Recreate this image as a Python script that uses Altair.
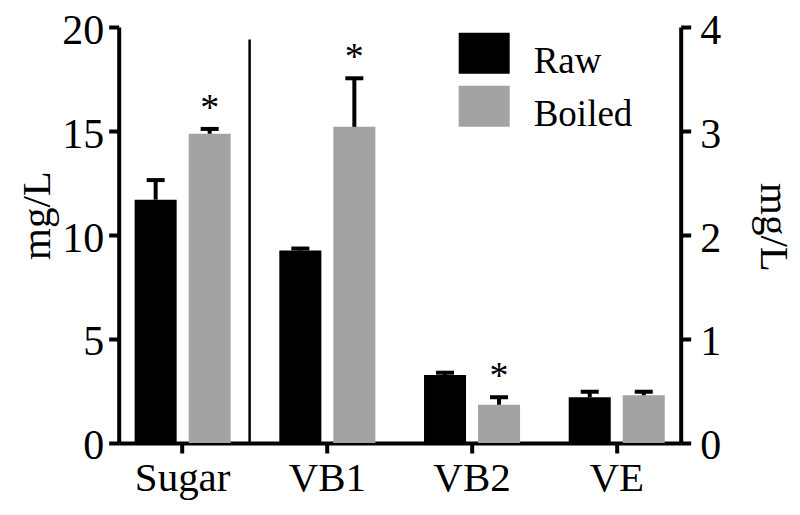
import altair as alt
import pandas as pd

# ---- data ----
categories = ["Sugar", "VB1", "VB2", "VE"]
groups = ["Raw", "Boiled"]
raw_means = [11.7, 1.85, 0.655, 0.44]
raw_upper = [12.64, 1.87, 0.676, 0.493]
boiled_means = [14.87, 3.04, 0.368, 0.459]
boiled_upper = [15.1, 3.507, 0.44, 0.493]
boiled_marks = ["*", "*", "*", ""]
raw_marks = ["", "", "", ""]
left_axis_cats = ["Sugar"]          # plotted against the left axis (0-20 mg/L)
left_ticks = [0, 5, 10, 15, 20]
right_ticks = [0, 1, 2, 3, 4]
divider_top = [19.4]                # left-axis units

rows = []
for i, c in enumerate(categories):
    rows.append({"cat": c, "group": "Raw", "value": raw_means[i], "hi": raw_upper[i], "star": raw_marks[i]})
    rows.append({"cat": c, "group": "Boiled", "value": boiled_means[i], "hi": boiled_upper[i], "star": boiled_marks[i]})
df = pd.DataFrame(rows)
df_left = df[df["cat"].isin(left_axis_cats)]
df_right = df[~df["cat"].isin(left_axis_cats)]

SERIF = "Liberation Serif, DejaVu Serif, Times New Roman, serif"
GRAY = "#a3a3a3"

x_scale = alt.Scale(domain=categories, paddingInner=0.116, paddingOuter=0)
xo_scale = alt.Scale(domain=groups, paddingInner=0.222, paddingOuter=0.295)
color_scale = alt.Scale(domain=groups, range=["black", GRAY])

x_axis = alt.Axis(
    domainColor="black", domainWidth=4, tickColor="black", tickWidth=4, tickSize=10,
    labelFont=SERIF, labelFontSize=41, labelColor="black", labelPadding=6,
    labelAngle=0, grid=False, title=None,
)


def axis_y(orient, values, title_x, title_y, angle, pad):
    return alt.Axis(
        orient=orient, values=values, title="mg/L", grid=False,
        domainColor="black", domainWidth=4, tickColor="black", tickWidth=4, tickSize=10,
        labelFont=SERIF, labelFontSize=42, labelColor="black", labelPadding=pad,
        labelOffset=3,
        titleFont=SERIF, titleFontSize=41, titleFontWeight="normal", titleColor="black",
        titleAngle=angle, titleX=title_x, titleY=title_y, titleBaseline="alphabetic",
        titleAlign="center",
    )


legend = alt.Legend(
    orient="none", legendX=340, legendY=9, title=None, padding=0,
    symbolType="M-1,-1.13H1V0.478H-1Z", symbolSize=2601, symbolStrokeWidth=0,
    symbolOpacity=1, labelFont=SERIF, labelFontSize=37, labelColor="black",
    labelOffset=24, rowPadding=5,
)

left_scale = alt.Scale(domain=[0, 20], nice=False, zero=True)
right_scale = alt.Scale(domain=[0, 4], nice=False, zero=True)


def panel(data, y_scale, y_axis, with_legend, extra=None):
    base = alt.Chart(data)
    x = alt.X("cat:N", scale=x_scale, axis=x_axis)
    xo = alt.XOffset("group:N", scale=xo_scale)
    bars = base.mark_bar().encode(
        x=x, xOffset=xo,
        y=alt.Y("value:Q", scale=y_scale, axis=y_axis),
        color=alt.Color("group:N", scale=color_scale, legend=legend if with_legend else None),
    )
    err = base.mark_rule(color="black", strokeWidth=4).encode(
        x=x, xOffset=xo,
        y=alt.Y("value:Q", scale=y_scale, axis=y_axis),
        y2="hi:Q",
    )
    caps = base.mark_tick(color="black", size=18, thickness=4, opacity=1).encode(
        x=x, xOffset=xo,
        y=alt.Y("hi:Q", scale=y_scale, axis=y_axis),
    )
    stars = base.transform_filter("datum.star != ''").mark_text(
        font=SERIF, fontSize=38, color="black", baseline="alphabetic", dy=-9
    ).encode(
        x=x, xOffset=xo,
        y=alt.Y("hi:Q", scale=y_scale, axis=y_axis),
        text="star:N",
    )
    layers = [bars, err, caps, stars]
    if extra is not None:
        layers.append(extra)
    return alt.layer(*layers)


left_axis = axis_y("left", left_ticks, -68.7, 188, 270, 5)
right_axis = axis_y("right", right_ticks, 80, 200, 90, 9)

divider = alt.Chart(pd.DataFrame({"top": divider_top})).mark_rule(
    color="black", strokeWidth=2.5, xOffset=3
).encode(
    x=alt.X(datum="Sugar", type="nominal", bandPosition=1, scale=x_scale, axis=x_axis),
    y=alt.Y("top:Q", scale=left_scale, axis=left_axis),
    y2=alt.Y2(datum=0),
)

left = panel(df_left, left_scale, left_axis, True, divider)
right = panel(df_right, right_scale, right_axis, False)

chart = alt.layer(left, right).resolve_scale(y="independent").properties(
    width=562, height=416,
    autosize=alt.AutoSizeParams(type="none"),
    padding={"left": 110.7, "top": 19, "right": 110, "bottom": 60},
    background="white",
).configure_view(stroke=None)

chart.save("out.html", embed_options={"renderer": "svg", "actions": False})
